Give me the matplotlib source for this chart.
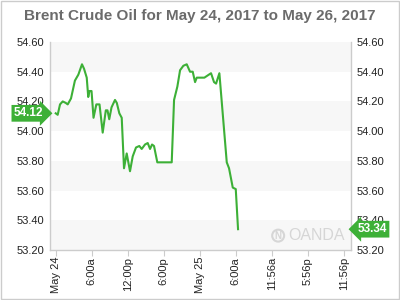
import numpy as np
from matplotlib import pyplot as plt
import matplotlib.transforms as mtransforms

plt.rcParams['font.family'] = ['Liberation Sans', 'DejaVu Sans']

title = "Brent Crude Oil for May 24, 2017 to May 26, 2017"

# hours since May 24 00:00
hours = [0.0, 0.33, 0.72, 1.17, 1.67, 2.0, 2.55, 3.2, 3.77, 4.38,
         4.72, 5.17, 5.42, 5.63, 5.97, 6.3, 6.77, 7.3, 7.83, 8.35,
         8.63, 8.92, 9.3, 9.88, 10.18, 10.6, 11.0, 11.38, 11.83, 12.38,
         12.83, 13.38, 13.93, 14.33, 14.88, 15.33, 15.72, 16.05, 16.38, 16.93,
         19.33, 19.72, 20.27, 20.72, 21.27, 21.83, 22.38, 22.83, 23.22, 23.5,
         24.05, 24.77, 25.88, 26.38, 26.72, 27.27, 28.5, 28.88, 29.5, 30.0,
         30.38]
prices = [54.12, 54.11, 54.18, 54.20, 54.19, 54.18, 54.22, 54.34, 54.38, 54.45,
          54.42, 54.36, 54.23, 54.27, 54.27, 54.09, 54.18, 54.18, 53.99, 54.14,
          54.14, 54.08, 54.16, 54.21, 54.19, 54.12, 54.09, 53.75, 53.85, 53.73,
          53.83, 53.89, 53.90, 53.88, 53.91, 53.92, 53.88, 53.91, 53.90, 53.79,
          53.79, 54.21, 54.30, 54.41, 54.44, 54.45, 54.40, 54.40, 54.33, 54.36,
          54.36, 54.36, 54.39, 54.33, 54.32, 54.39, 53.79, 53.75, 53.62, 53.61,
          53.34]

tick_hours = [0, 6, 12, 18, 24, 30, 36, 42, 48]
tick_labels = ['May 24', '6:00a', '12:00p', '6:00p', 'May 25', '6:00a',
               '11:56a', '5:56p', '11:56p']
y_ticks = [53.2, 53.4, 53.6, 53.8, 54.0, 54.2, 54.4, 54.6]

green = '#3db037'
grid_gray = '#cccccc'

fig = plt.figure(figsize=(4, 3), dpi=100)
ax = fig.add_axes([0.125, 0.1667, 0.7525, 0.6933])

# alternating bands
for i in range(len(y_ticks) - 1):
    if i % 2 == 0:
        ax.axhspan(y_ticks[i], y_ticks[i + 1], color='#f7f7f7', zorder=0, lw=0)

ax.plot(hours, prices, color=green, lw=1.5, zorder=3)

ax.set_xlim(-0.95, 49.2)
ax.set_ylim(53.2, 54.6)
ax.set_xticks(tick_hours)
ax.set_xticklabels(tick_labels, rotation=90, fontsize=8, color='#222222')
ax.set_yticks(y_ticks)
ax.set_yticklabels(['%.2f' % v for v in y_ticks], fontsize=8, color='#222222')
ax.tick_params(axis='y', length=0, pad=4, labelleft=True, labelright=True)
ax.tick_params(axis='x', length=4, width=0.8, color=grid_gray, pad=1)

ax.spines['top'].set_visible(False)
for s in ['left', 'right', 'bottom']:
    ax.spines[s].set_color(grid_gray)
    ax.spines[s].set_linewidth(1)

fig.text(0.5, 0.947, title, ha='center', va='center', fontsize=11,
         fontweight='bold', color='#6b6b6b')

# price tags
trans = mtransforms.blended_transform_factory(ax.transAxes, ax.transData)
ax.text(-0.022, prices[0], '%.2f' % prices[0], transform=trans, ha='right',
        va='center', fontsize=8.5, fontweight='bold', color='white', zorder=10,
        clip_on=False,
        bbox=dict(boxstyle='rarrow,pad=0.2', fc=green, ec='none'))
ax.text(1.022, prices[-1], '%.2f' % prices[-1], transform=trans, ha='left',
        va='center', fontsize=8.5, fontweight='bold', color='white', zorder=10,
        clip_on=False,
        bbox=dict(boxstyle='larrow,pad=0.2', fc=green, ec='none'))

# watermark
ax.text(0.98, 0.035, 'OANDA', transform=ax.transAxes, ha='right', va='bottom',
        fontsize=11.5, color='#d6d6d6', zorder=1)
ax.text(0.758, 0.045, 'N', transform=ax.transAxes, ha='center', va='bottom',
        fontsize=7, fontweight='bold', color='#d6d6d6', zorder=1,
        bbox=dict(boxstyle='circle,pad=0.1', fc='none', ec='#d6d6d6', lw=1.5))

# outer frame
fig.patches.append(plt.Rectangle((0.002, 0.002), 0.996, 0.996,
                                 transform=fig.transFigure, fill=False,
                                 ec='#cccccc', lw=1))

plt.savefig('out.png', dpi=100)
